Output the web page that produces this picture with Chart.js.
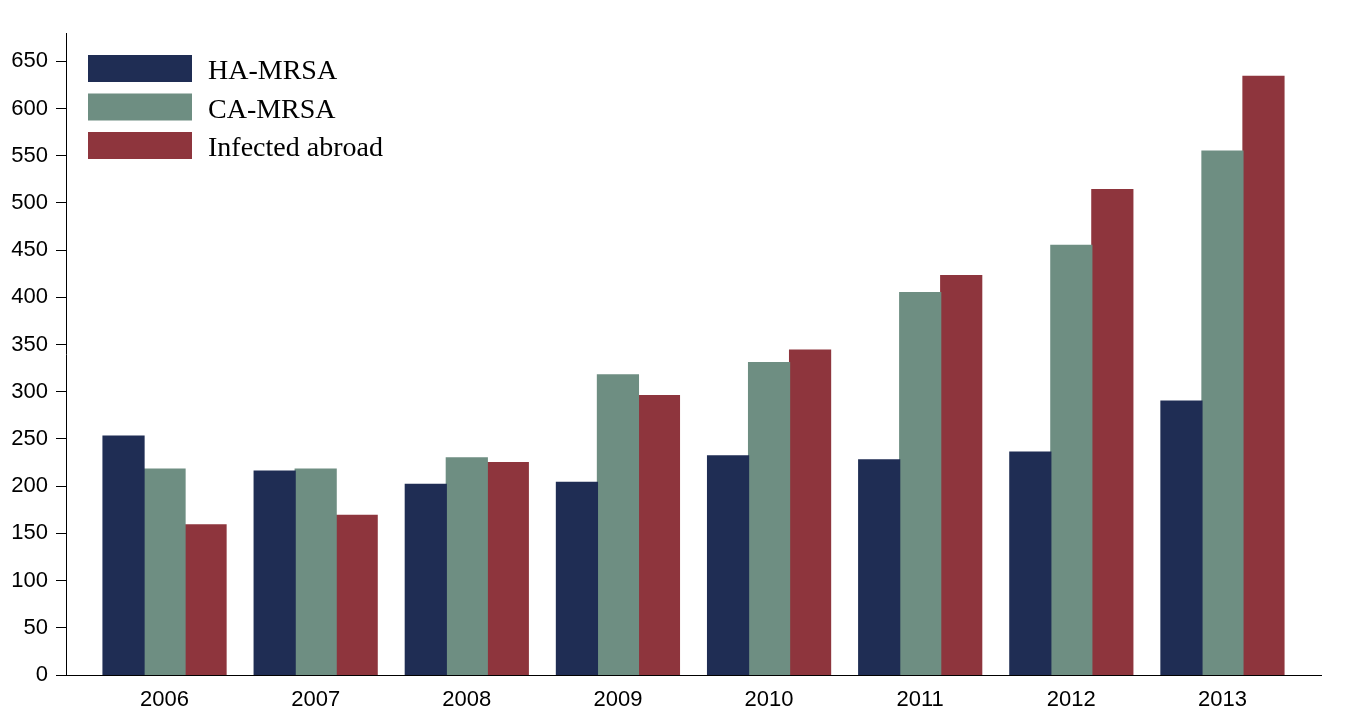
<!DOCTYPE html>
<html>
<head>
<meta charset="utf-8">
<script src="https://cdn.jsdelivr.net/npm/chart.js@4.4.1/dist/chart.umd.min.js"></script>
<style>
    html, body { margin: 0; padding: 0; background: #fff; }
    #wrap { width: 1348px; height: 725px; }
</style>
</head>
<body>
<div id="wrap"><canvas id="chart" width="1348" height="725"></canvas></div>
<script>
const years = [2006, 2007, 2008, 2009, 2010, 2011, 2012, 2013];
const haMrsa = [253, 216, 202, 204, 232, 228, 236, 290];
const caMrsa = [218, 218, 230, 318, 331, 405, 455, 555];
const infectedAbroad = [159, 169, 225, 296, 344, 423, 514, 634];
const yTicks = [0, 50, 100, 150, 200, 250, 300, 350, 400, 450, 500, 550, 600, 650];
const seriesLabels = ['HA-MRSA', 'CA-MRSA', 'Infected abroad'];

function toPoints(values) {
    return years.map((yr, i) => ({ x: yr, y: values[i] }));
}

// legend drawn as stacked boxes in the top-left corner
const boxLegend = {
    id: 'boxLegend',
    afterDraw(chart) {
        const ctx = chart.ctx;
        ctx.save();
        ctx.font = '28px "Liberation Serif"';
        ctx.textBaseline = 'alphabetic';
        chart.data.datasets.forEach((ds, i) => {
            const top = 55 + i * 38.5;
            ctx.fillStyle = ds.backgroundColor;
            ctx.fillRect(88, top, 104, 27);
            ctx.fillStyle = '#000';
            ctx.fillText(ds.label, 208, top + 24);
        });
        ctx.restore();
    }
};

const tickFont = { family: 'Liberation Sans', size: 22 };

const config = {
    type: 'bar',
    data: {
        datasets: [{
            label: seriesLabels[0],
            data: toPoints(haMrsa),
            backgroundColor: 'rgb(31,45,84)'
        }, {
            label: seriesLabels[1],
            data: toPoints(caMrsa),
            backgroundColor: 'rgb(110,142,130)'
        }, {
            label: seriesLabels[2],
            data: toPoints(infectedAbroad),
            backgroundColor: 'rgb(142,53,61)'
        }]
    },
    options: {
        responsive: false,
        animation: false,
        datasets: {
            bar: {
                barPercentage: 1,
                categoryPercentage: 0.814,
                borderWidth: 0,
                inflateAmount: 0.6
            }
        },
        layout: {
            padding: { top: 33, right: 27, left: 0, bottom: 0 }
        },
        scales: {
            x: {
                type: 'linear',
                min: 2005.348,
                max: 2013.652,
                offset: false,
                grid: { display: false, drawTicks: false, tickLength: 0 },
                border: { display: true, color: '#000', width: 1 },
                afterBuildTicks: (scale) => {
                    scale.ticks = years.map(v => ({ value: v }));
                },
                afterFit: (scale) => { scale.height = 50; },
                ticks: {
                    color: '#000',
                    font: tickFont,
                    padding: 12,
                    maxRotation: 0,
                    callback: (value) => String(value)
                }
            },
            y: {
                min: 0,
                max: 680,
                grid: {
                    drawOnChartArea: false,
                    drawTicks: true,
                    tickLength: 10,
                    color: '#000'
                },
                border: { display: true, color: '#000', width: 1 },
                afterBuildTicks: (scale) => {
                    scale.ticks = yTicks.map(v => ({ value: v }));
                },
                afterFit: (scale) => { scale.width = 66; },
                ticks: {
                    color: '#000',
                    font: tickFont,
                    padding: 8
                }
            }
        },
        plugins: {
            legend: { display: false },
            tooltip: { enabled: false }
        }
    },
    plugins: [boxLegend]
};

const chart = new Chart(document.getElementById('chart'), config);
</script>
</body>
</html>
